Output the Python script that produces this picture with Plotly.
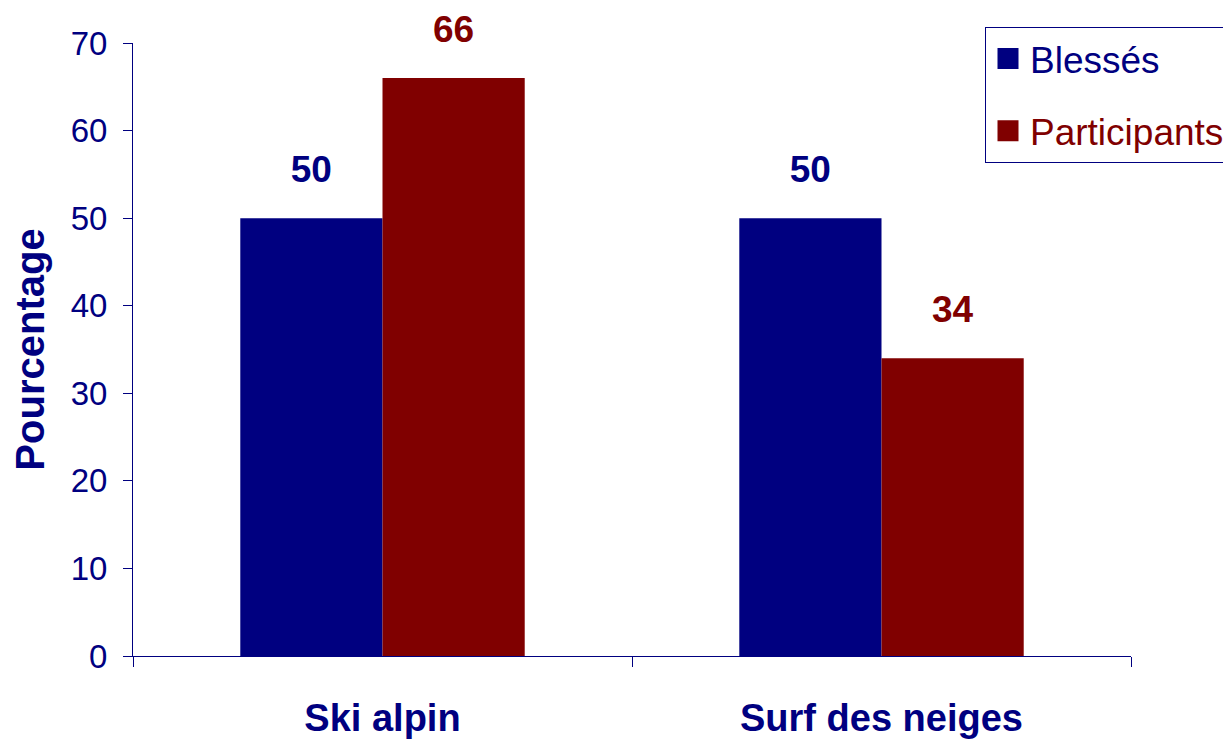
import plotly.graph_objects as go

categories = ["Ski alpin", "Surf des neiges"]
series_names = ["Blessés", "Participants"]
blesses = [50, 50]
participants = [66, 34]
y_ticks = [0, 10, 20, 30, 40, 50, 60, 70]

NAVY = "#000080"
MAROON = "#800000"
FONT = "Liberation Sans, Arial, sans-serif"

series = [
    (series_names[0], blesses, NAVY, "b"),
    (series_names[1], participants, MAROON, "p"),
]

fig = go.Figure()

for name, vals, color, grp in series:
    fig.add_trace(go.Bar(
        x=categories, y=vals, name=name,
        marker=dict(color=color, line=dict(width=0)),
        offsetgroup=grp, showlegend=False,
    ))

for name, vals, color, grp in series:
    fig.add_trace(go.Scatter(
        x=categories, y=vals, mode="markers+text",
        text=[str(v) for v in vals], textposition="top center",
        textfont=dict(family=FONT, size=37, color=color, weight="bold"),
        marker=dict(size=42, opacity=0, color=color),
        offsetgroup=grp, showlegend=False, cliponaxis=False,
        hoverinfo="skip",
    ))

for name, vals, color, grp in series:
    fig.add_trace(go.Scatter(
        x=[None], y=[None], mode="markers",
        name=f"<span style='color:{color}'>{name}</span>",
        marker=dict(symbol="square", size=16, color=color,
                    line=dict(width=5, color=color)),
        offsetgroup=grp, legendgroup=grp, showlegend=True,
    ))

W, H = 1223, 731
L, R, T, B = 125, 100, 35, 83
pw = W - L - R
ph = H - T - B

fig.update_layout(
    template="none",
    width=W, height=H,
    margin=dict(l=L, r=R, t=T, b=B, autoexpand=False),
    paper_bgcolor="white", plot_bgcolor="white",
    barmode="group", bargap=0.43, bargroupgap=0,
    scattermode="group", scattergap=0.43,
    font=dict(family=FONT, color=NAVY),
    legend=dict(
        x=(977 - L) / pw, y=1 + 16 / ph,
        xanchor="left", yanchor="top",
        font=dict(family=FONT, size=37, color=NAVY),
        bordercolor=NAVY, borderwidth=1, bgcolor="white",
        tracegroupgap=21, itemwidth=34,
    ),
    xaxis=dict(
        type="category",
        showline=True, linecolor=NAVY, linewidth=1,
        ticks="outside", tickson="boundaries", ticklen=10, tickcolor=NAVY,
        tickfont=dict(family=FONT, size=38, color=NAVY, weight="bold"),
        ticklabelstandoff=28,
        showgrid=False, zeroline=False,
    ),
    yaxis=dict(
        range=[0, 70], tickvals=y_ticks, ticktext=[str(t) for t in y_ticks],
        showline=True, linecolor=NAVY, linewidth=1,
        ticks="outside", ticklen=9, tickcolor=NAVY,
        tickfont=dict(family=FONT, size=33, color=NAVY),
        ticklabelstandoff=9,
        title=dict(text="Pourcentage", standoff=20,
                   font=dict(family=FONT, size=40, color=NAVY, weight="bold")),
        showgrid=False, zeroline=False,
    ),
)

fig.write_html("out.html")
